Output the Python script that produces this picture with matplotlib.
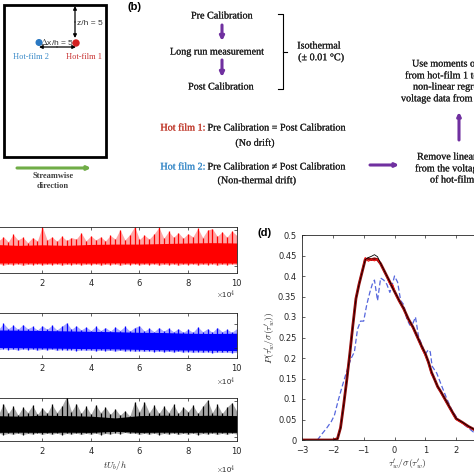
import numpy as np
import matplotlib.pyplot as plt
import matplotlib.patheffects as pe
from matplotlib.patches import Rectangle, Circle

plt.rcParams['mathtext.fontset'] = 'cm'
W = H = 474

# ---------------- panel (c): signal envelopes (t in 1e4 tU_b/h)
t_c = np.linspace(0, 10, 51)
t_band = np.linspace(0, 10, 11)
red_peak = [1.55, 1.40, 1.62, 1.35, 1.76, 1.45, 1.60, 1.30, 1.58, 1.40, 2.19, 1.45, 1.62,
            1.38, 1.66, 1.42, 1.58, 1.50, 1.84, 1.40, 1.68, 1.45, 1.62, 1.40, 1.70, 1.50,
            2.02, 1.45, 1.75, 2.19, 1.48, 1.72, 1.50, 1.78, 2.15, 1.55, 1.92, 1.60, 1.85,
            1.55, 1.80, 1.62, 2.10, 1.58, 2.00, 2.08, 1.65, 1.90, 1.60, 1.95, 1.70]
red_trough = [0.08, 0.12, 0.05, 0.10, 0.07, 0.12, 0.04, 0.10, 0.08, 0.12, 0.06, 0.10, 0.08,
              0.12, 0.05, 0.10, 0.08, 0.11, 0.06, 0.10, 0.08, 0.12, 0.05, 0.10, 0.07, 0.12,
              0.04, 0.10, 0.08, 0.12, 0.06, 0.10, 0.08, 0.12, 0.05, 0.10, 0.07, 0.11, 0.05,
              0.10, 0.08, 0.12, 0.06, 0.10, 0.08, 0.12, 0.05, 0.10, 0.07, 0.11, 0.08]
red_band_hi = [1.20, 1.15, 1.18, 1.15, 1.20, 1.22, 1.22, 1.25, 1.28, 1.30, 1.28]
red_band_lo = [0.16, 0.17, 0.16, 0.17, 0.16, 0.17, 0.16, 0.17, 0.16, 0.17, 0.16]
blue_peak = [1.85, 1.55, 2.05, 1.60, 1.90, 1.55, 1.95, 1.60, 1.80, 1.50, 1.85, 1.55, 1.90,
             1.50, 1.80, 2.10, 1.55, 1.85, 1.50, 1.75, 1.45, 1.80, 1.45, 1.70, 1.40, 1.75,
             1.45, 1.80, 1.40, 1.70, 1.85, 1.40, 1.65, 1.35, 1.70, 1.40, 1.65, 1.35, 1.60,
             1.30, 1.55, 1.30, 1.75, 1.35, 1.60, 1.30, 1.70, 1.35, 1.55, 1.30, 1.60]
blue_trough = [-0.10, -0.18, -0.08, -0.15, -0.12, -0.20, -0.10, -0.16, -0.12, -0.20, -0.14,
               -0.18, -0.12, -0.22, -0.15, -0.20, -0.16, -0.24, -0.18, -0.22, -0.20, -0.26,
               -0.20, -0.25, -0.22, -0.28, -0.22, -0.28, -0.24, -0.30, -0.26, -0.30, -0.26,
               -0.32, -0.28, -0.34, -0.30, -0.36, -0.30, -0.38, -0.32, -0.40, -0.34, -0.40,
               -0.34, -0.42, -0.36, -0.40, -0.36, -0.42, -0.38]
blue_band_hi = [1.50, 1.48, 1.45, 1.42, 1.38, 1.35, 1.30, 1.28, 1.22, 1.20, 1.22]
blue_band_lo = [0.02, 0.00, -0.02, -0.05, -0.08, -0.10, -0.14, -0.18, -0.20, -0.22, -0.24]
black_peak = [1.60, 1.25, 1.85, 1.30, 1.70, 1.20, 1.65, 1.35, 1.75, 1.25, 1.60, 1.30, 1.80,
              1.35, 1.70, 2.24, 1.40, 1.85, 1.30, 1.70, 1.25, 1.78, 1.35, 1.65, 1.25, 1.55,
              1.20, 1.45, 1.15, 1.95, 1.40, 1.95, 1.35, 1.75, 1.30, 1.70, 1.35, 1.80, 1.30,
              1.65, 1.40, 1.75, 1.30, 1.70, 2.05, 1.35, 1.80, 1.30, 1.65, 1.90, 1.45]
black_trough = [0.15, 0.20, 0.12, 0.18, 0.14, 0.20, 0.12, 0.18, 0.15, 0.21, 0.13, 0.19, 0.14,
                0.20, 0.12, 0.18, 0.15, 0.20, 0.13, 0.19, 0.14, 0.20, 0.12, 0.18, 0.15, 0.22,
                0.16, 0.24, 0.18, 0.20, 0.13, 0.19, 0.14, 0.20, 0.12, 0.18, 0.15, 0.20, 0.13,
                0.19, 0.14, 0.20, 0.12, 0.18, 0.15, 0.20, 0.13, 0.19, 0.14, 0.20, 0.15]
black_band_hi = [1.18, 1.15, 1.20, 1.18, 1.15, 1.05, 1.18, 1.20, 1.18, 1.20, 1.18]
black_band_lo = [0.24, 0.25, 0.24, 0.25, 0.24, 0.30, 0.24, 0.25, 0.24, 0.25, 0.24]

# ---------------- panel (d): PDFs
x_main = [-3.0, -2.0, -1.85, -1.75, -1.65, -1.55, -1.45, -1.35, -1.25, -1.15, -1.05, -0.95,
          -0.85, -0.75, -0.65, -0.55, -0.45, -0.35, -0.25, -0.15, -0.05, 0.05, 0.15, 0.3,
          0.45, 0.6, 0.75, 0.9, 1.0, 1.1, 1.2, 1.3, 1.4, 1.5, 1.65, 1.8, 1.9, 2.0, 2.2, 2.4,
          2.6, 2.8, 3.0]
pdf_black = [0, 0, 0.003, 0.03, 0.085, 0.145, 0.21, 0.28, 0.345, 0.38, 0.41, 0.44, 0.445,
             0.448, 0.452, 0.447, 0.43, 0.415, 0.40, 0.385, 0.37, 0.355, 0.34, 0.32, 0.295,
             0.275, 0.25, 0.225, 0.21, 0.19, 0.165, 0.148, 0.13, 0.118, 0.098, 0.078, 0.065,
             0.052, 0.043, 0.033, 0.025, 0.02, 0.015]
pdf_darkred = [0, 0, 0.003, 0.03, 0.085, 0.145, 0.21, 0.28, 0.345, 0.38, 0.41, 0.44, 0.442,
               0.44, 0.442, 0.44, 0.43, 0.415, 0.40, 0.385, 0.37, 0.355, 0.34, 0.32, 0.295,
               0.275, 0.25, 0.225, 0.21, 0.19, 0.165, 0.148, 0.13, 0.118, 0.098, 0.078,
               0.065, 0.052, 0.043, 0.033, 0.025, 0.02, 0.015]
pdf_red = [0, 0, 0.004, 0.032, 0.087, 0.147, 0.212, 0.282, 0.347, 0.382, 0.412, 0.445, 0.436,
           0.44, 0.437, 0.441, 0.428, 0.413, 0.398, 0.38, 0.378, 0.352, 0.338, 0.318, 0.293,
           0.273, 0.248, 0.222, 0.206, 0.188, 0.16, 0.15, 0.128, 0.116, 0.096, 0.076, 0.062,
           0.05, 0.041, 0.031, 0.024, 0.019, 0.014]
x_blue = [-2.5, -2.35, -2.2, -2.05, -1.95, -1.82, -1.7, -1.6, -1.5, -1.4, -1.3, -1.2, -1.1,
          -1.0, -0.9, -0.8, -0.72, -0.65, -0.55, -0.45, -0.35, -0.25, -0.15, -0.05, 0.0,
          0.1, 0.2, 0.3, 0.4, 0.5, 0.6, 0.68, 0.78, 0.9, 1.0, 1.1, 1.16, 1.22, 1.37, 1.54,
          1.7, 1.86, 2.07, 2.35, 2.55, 2.8, 3.0]
pdf_blue = [0, 0.015, 0.029, 0.045, 0.06, 0.098, 0.13, 0.155, 0.18, 0.2, 0.215, 0.27, 0.29,
            0.29, 0.33, 0.36, 0.38, 0.39, 0.34, 0.395, 0.39, 0.38, 0.36, 0.385, 0.40, 0.385,
            0.34, 0.33, 0.295, 0.28, 0.285, 0.30, 0.252, 0.23, 0.21, 0.22, 0.215, 0.18,
            0.163, 0.13, 0.10, 0.073, 0.049, 0.032, 0.02, 0.012, 0.008]

purple = '#7030a0'
txt = '#1e1e1e'
axc = '#262626'

fig = plt.figure(figsize=(4.74, 4.74), dpi=100)
ax0 = fig.add_axes([0, 0, 1, 1])
ax0.set_xlim(0, W)
ax0.set_ylim(H, 0)
ax0.axis('off')


def px_axes(left, top, right, bottom):
    return fig.add_axes([left / W, 1 - bottom / H, (right - left) / W, (bottom - top) / H])


def arrow(x0, y0, x1, y1, color, lw, style='-|>', ms=7):
    ax0.annotate('', xy=(x1, y1), xytext=(x0, y0),
                 arrowprops=dict(arrowstyle=style, color=color, lw=lw, mutation_scale=ms,
                                 shrinkA=0, shrinkB=0))


def stxt(x, y, s, color=txt, **kw):
    # a touch heavier serif text, like the blurred Cambria of the original
    t = ax0.text(x, y, s, fontsize=7.3, va='center', family='Liberation Serif', color=color, **kw)
    t.set_path_effects([pe.withStroke(linewidth=0.12, foreground=color)])
    return t


# ---------------- panel (a) sketch
ax0.add_patch(Rectangle((4.5, 4.5), 102, 152, fill=False, lw=2, ec='black'))
arrow(75, 22, 75, 6, 'black', 0.9, ms=5)
arrow(75, 22, 75, 38, 'black', 0.9, ms=5)
arrow(57, 47, 39, 47, 'black', 0.9, ms=5)
arrow(57, 47, 76, 47, 'black', 0.9, ms=5)
ax0.text(77, 23, 'z/h = 5', fontsize=6, family='Liberation Sans', color='#333333', va='center')
ax0.text(57, 41.5, r'$\Delta$x/h = 5', fontsize=6, family='Liberation Sans', color='#333333',
         ha='center', va='center')
ax0.add_patch(Circle((39, 42.5), 2.8, color='#2a78c2', zorder=5))
ax0.add_patch(Circle((76, 43), 3.0, color='#d42020', zorder=5))
ax0.text(30.5, 57, 'Hot-film 2', fontsize=6, ha='center', va='center',
         family='Liberation Serif', color='#3a8ac8')
ax0.text(84, 57, 'Hot-film 1', fontsize=6, ha='center', va='center',
         family='Liberation Serif', color='#c83232')
arrow(17, 168, 91, 168, '#70ad47', 2.2, ms=5)
ax0.text(53, 176, 'Streamwise', fontsize=6, fontweight='bold', ha='center', va='center',
         family='Liberation Serif', color='#404040')
ax0.text(53, 185.5, 'direction', fontsize=6, fontweight='bold', ha='center', va='center',
         family='Liberation Serif', color='#404040')

# ---------------- panel (b) flowchart
ax0.text(135, 7, '(b)', fontsize=8, fontweight='bold', family='Liberation Sans',
         ha='center', va='center')
stxt(222, 16, 'Pre Calibration', ha='center')
arrow(222, 25, 222, 41, purple, 2.2, ms=6)
stxt(217, 52, 'Long run measurement', ha='center')
arrow(222, 60, 222, 77, purple, 2.2, ms=6)
stxt(221, 87, 'Post Calibration', ha='center')
ax0.plot([278, 283, 283, 278], [14, 14, 89, 89], color='black', lw=0.8)
ax0.plot([283, 287], [52, 52], color='black', lw=0.8)
stxt(319, 46, 'Isothermal', ha='center')
stxt(321, 57.5, '(± 0.01 °C)', ha='center')

stxt(205.5, 128, 'Hot film 1:', color='#c0392b', ha='right')
stxt(207.5, 128, 'Pre Calibration = Post Calibration', ha='left')
stxt(255, 143, '(No drift)', ha='center')
stxt(205.5, 167, 'Hot film 2:', color='#3a8ac8', ha='right')
stxt(207.5, 167, 'Pre Calibration \u2260 Post Calibration', ha='left')
stxt(257, 180.5, '(Non-thermal drift)', ha='center')
arrow(370, 165, 399, 165, purple, 2.2, ms=5)

for y, s, x in [(64, 'Use moments obtained', 412), (75.5, 'from hot-film 1 to apply', 405),
                (87, 'non-linear regression to', 413), (98.5, 'voltage data from hot-film 2', 401)]:
    stxt(x, y, s, ha='left')
arrow(459, 140, 459, 112, purple, 2.2, ms=5)
for y, s, x in [(157, 'Remove linear drift', 417), (168.5, 'from the voltage data', 415),
                (180, 'of hot-film 2', 430)]:
    stxt(x, y, s, ha='left')

# ---------------- panel (c) time series
rows = [(red_peak, red_trough, red_band_hi, red_band_lo, 'red', 227, 273, (-0.39, 2.17), 295),
        (blue_peak, blue_trough, blue_band_hi, blue_band_lo, 'blue', 313.3, 358.3, (-0.89, 2.9), 382),
        (black_peak, black_trough, black_band_hi, black_band_lo, 'black', 397.7, 441, (-0.24, 2.18), 470)]
for peak, trough, bhi, blo, c, top, bot, ylim, oy in rows:
    ax = px_axes(-6.3, top, 236.7, bot)
    ax.fill_between(t_c, trough, peak, color=c, lw=0, alpha=0.35)
    ax.fill_between(t_band, blo, bhi, color=c, lw=0)
    ax.vlines(t_c, trough, peak, color=c, lw=0.9)
    ax.set_xlim(0, 10)
    ax.set_ylim(*ylim)
    ax.set_xticks([0, 2, 4, 6, 8, 10])
    ax.set_yticks([0, 2])
    ax.tick_params(direction='in', top=True, right=True, labelsize=6, length=2.5,
                   width=0.5, colors=axc, pad=4)
    for s in ax.spines.values():
        s.set_linewidth(0.6)
        s.set_color(axc)
    ax0.text(235, oy, r'$\times$10$^4$', fontsize=5.5, ha='right', va='center',
             family='Liberation Sans', color=axc)
ax0.text(115, 465, r'$tU_b/h$', fontsize=6.5, ha='center', va='center', color=axc)

# ---------------- panel (d) PDFs
ax0.text(265, 233, '(d)', fontsize=8, fontweight='bold', family='Liberation Sans',
         ha='center', va='center')
axd = px_axes(302, 235, 487, 440)
axd.plot(x_blue, pdf_blue, '--', color='#5566dd', lw=0.9, dashes=(4, 2))
axd.plot(x_main, pdf_darkred, color='#8b0a0a', lw=2.0)
axd.plot(x_main, pdf_red, color='#ee1111', lw=0.8)
axd.plot(x_main, pdf_black, color='black', lw=0.6)
axd.set_xlim(-3, 3)
axd.set_ylim(0, 0.5)
axd.set_xticks([-3, -2, -1, 0, 1, 2, 3])
yt = [0, 0.05, 0.1, 0.15, 0.2, 0.25, 0.3, 0.35, 0.4, 0.45, 0.5]
axd.set_yticks(yt)
axd.set_yticklabels(['%g' % v for v in yt])
axd.tick_params(direction='in', top=True, right=True, labelsize=6, length=2.5,
                width=0.5, colors=axc, pad=4)
for s in axd.spines.values():
    s.set_linewidth(0.6)
    s.set_color(axc)
axd.set_ylabel(r"$P(\tau_w'/\sigma(\tau_w'))$", fontsize=7, color=axc, labelpad=1)
ax0.text(407, 464, r"$\tau_w'/\sigma(\tau_w')$", fontsize=7, ha='center', va='center',
         color=axc)

fig.savefig('out.png', dpi=100)
